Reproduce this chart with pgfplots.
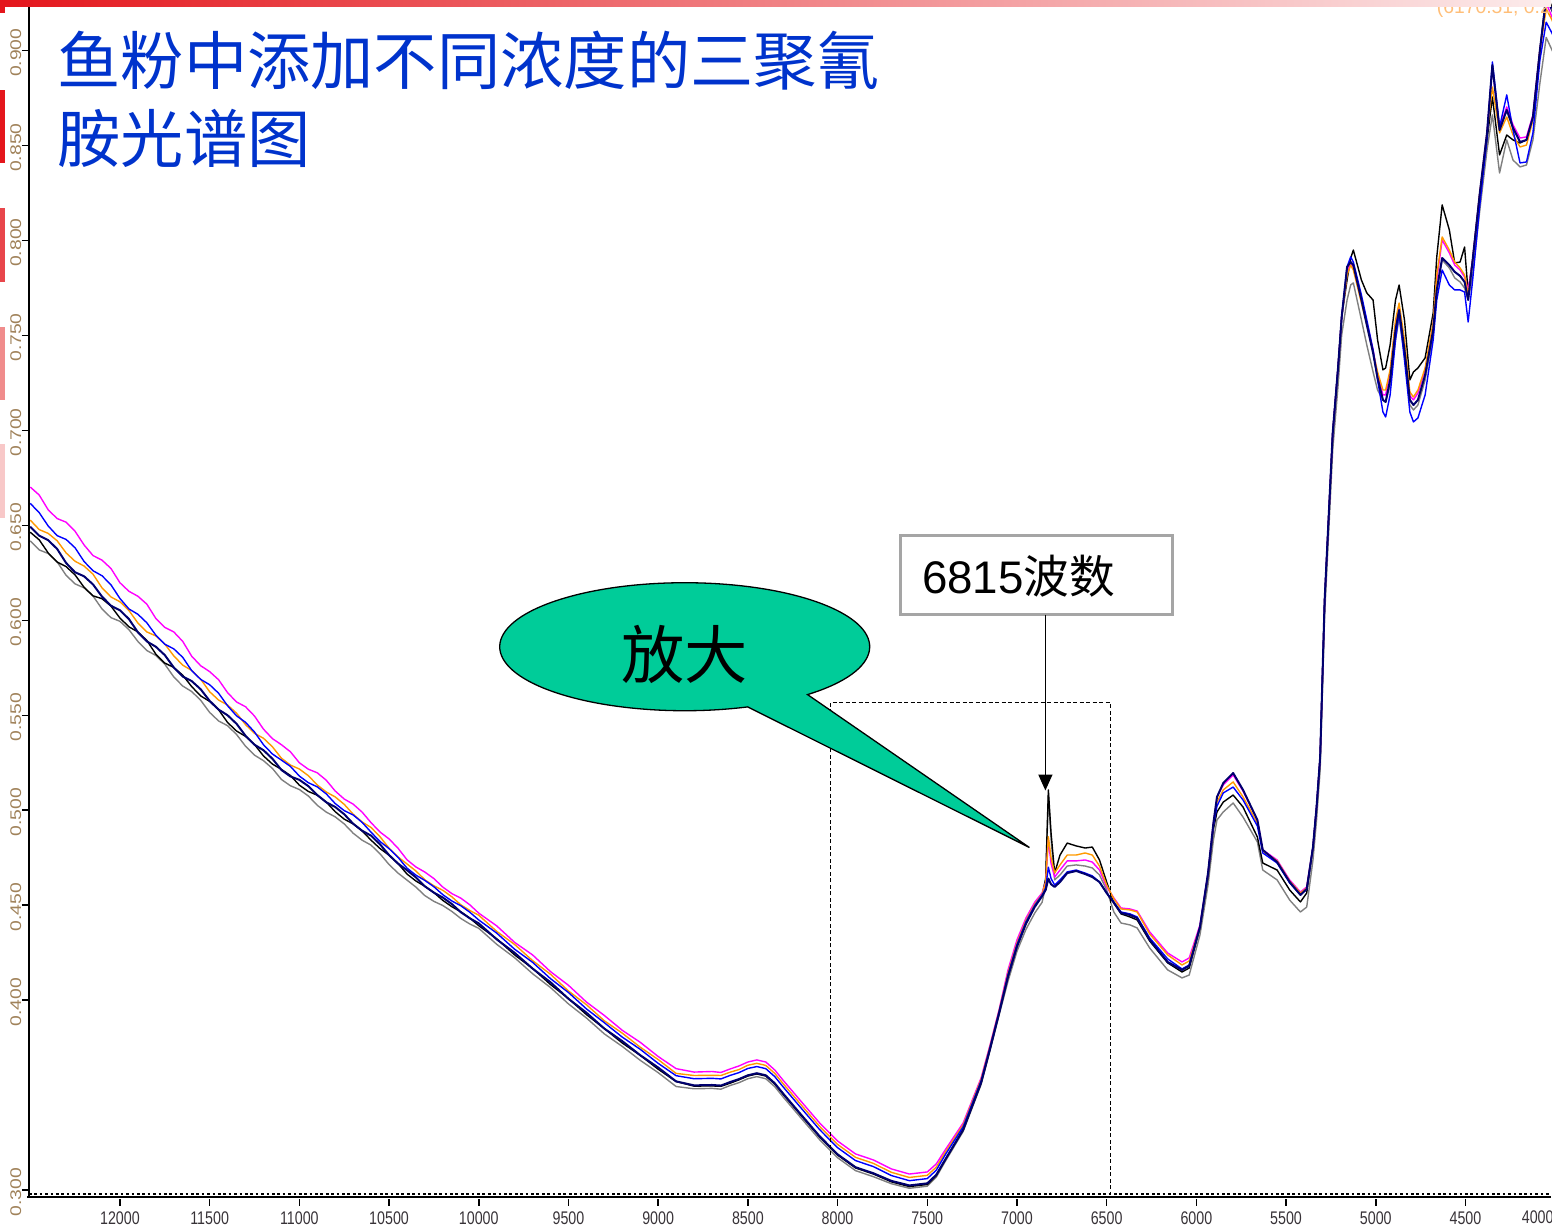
\documentclass[border=0pt]{standalone}
\usepackage{fontspec}
\setmainfont{Liberation Sans}
\newfontfamily\cjk{Noto Sans CJK SC}
\newfontfamily\xtickfont[FakeStretch=0.78]{Liberation Sans}
\newfontfamily\ytickfont[FakeStretch=1.25]{Liberation Sans}
\usepackage{pgfplots}
\usepackage{pgfplotstable}
\pgfplotsset{compat=1.18}
\usetikzlibrary{arrows.meta}

\definecolor{titleblue}{RGB}{0,51,204}
\definecolor{callout}{RGB}{0,204,153}
\definecolor{specmag}{RGB}{255,0,255}
\definecolor{specora}{RGB}{255,153,0}
\definecolor{specblu}{RGB}{0,0,255}
\definecolor{specnav}{RGB}{0,0,110}
\definecolor{specgry}{RGB}{128,128,128}
\definecolor{ylab}{RGB}{160,130,90}
\definecolor{xlab}{RGB}{55,50,55}
\definecolor{barred}{RGB}{228,22,28}
\definecolor{barpale}{RGB}{252,236,236}
\definecolor{bar2}{RGB}{232,70,75}
\definecolor{bar3}{RGB}{240,140,140}
\definecolor{bar4}{RGB}{248,200,200}
\definecolor{boxgray}{RGB}{165,165,165}
\definecolor{cursor}{RGB}{255,190,120}

% NIR spectra: wavenumber (cm^-1) and absorbance of six samples
\pgfplotstableread{
wn mag ora blu nav blk gry
12500 0.6702 0.6528 0.6616 0.6493 0.6464 0.6418
12450 0.6660 0.6478 0.6567 0.6446 0.6424 0.6371
12400 0.6582 0.6458 0.6497 0.6422 0.6355 0.6352
12350 0.6536 0.6419 0.6446 0.6376 0.6307 0.6308
12300 0.6517 0.6355 0.6426 0.6302 0.6283 0.6237
12250 0.6469 0.6311 0.6382 0.6253 0.6239 0.6192
12200 0.6397 0.6286 0.6310 0.6232 0.6174 0.6171
12150 0.6341 0.6243 0.6261 0.6189 0.6129 0.6128
12100 0.6317 0.6171 0.6235 0.6125 0.6114 0.6060
12050 0.6273 0.6123 0.6187 0.6077 0.6075 0.6014
12000 0.6198 0.6098 0.6115 0.6053 0.6012 0.5995
11950 0.6153 0.6052 0.6060 0.6007 0.5966 0.5951
11900 0.6127 0.5986 0.6032 0.5937 0.5939 0.5889
11850 0.6085 0.5939 0.5987 0.5889 0.5894 0.5841
11800 0.6010 0.5918 0.5922 0.5861 0.5822 0.5815
11750 0.5963 0.5875 0.5874 0.5817 0.5775 0.5769
11700 0.5939 0.5813 0.5850 0.5752 0.5752 0.5702
11650 0.5889 0.5764 0.5805 0.5704 0.5711 0.5654
11600 0.5811 0.5736 0.5735 0.5680 0.5651 0.5625
11550 0.5761 0.5690 0.5689 0.5637 0.5602 0.5579
11500 0.5730 0.5624 0.5661 0.5576 0.5573 0.5515
11450 0.5687 0.5580 0.5616 0.5530 0.5529 0.5470
11400 0.5619 0.5554 0.5550 0.5500 0.5462 0.5445
11350 0.5570 0.5511 0.5497 0.5455 0.5417 0.5399
11300 0.5545 0.5451 0.5463 0.5392 0.5389 0.5337
11250 0.5496 0.5405 0.5412 0.5345 0.5346 0.5290
11200 0.5427 0.5379 0.5345 0.5316 0.5286 0.5261
11150 0.5377 0.5334 0.5296 0.5271 0.5243 0.5220
11100 0.5345 0.5274 0.5264 0.5212 0.5215 0.5162
11050 0.5308 0.5238 0.5231 0.5178 0.5183 0.5129
11000 0.5250 0.5217 0.5180 0.5160 0.5132 0.5109
10950 0.5216 0.5182 0.5145 0.5127 0.5099 0.5075
10900 0.5197 0.5133 0.5123 0.5080 0.5079 0.5026
10850 0.5158 0.5096 0.5086 0.5042 0.5043 0.4990
10800 0.5101 0.5070 0.5035 0.5017 0.4992 0.4965
10750 0.5059 0.5031 0.4998 0.4979 0.4953 0.4928
10700 0.5032 0.4979 0.4975 0.4929 0.4928 0.4879
10650 0.4990 0.4938 0.4936 0.4892 0.4891 0.4842
10600 0.4934 0.4909 0.4884 0.4866 0.4842 0.4816
10550 0.4885 0.4860 0.4835 0.4820 0.4798 0.4770
10500 0.4849 0.4800 0.4798 0.4764 0.4763 0.4714
10450 0.4800 0.4754 0.4752 0.4719 0.4719 0.4669
10400 0.4739 0.4717 0.4695 0.4684 0.4664 0.4632
10350 0.4701 0.4680 0.4658 0.4646 0.4627 0.4595
10300 0.4674 0.4633 0.4630 0.4599 0.4599 0.4550
10250 0.4640 0.4602 0.4597 0.4566 0.4566 0.4520
10200 0.4595 0.4578 0.4555 0.4540 0.4525 0.4498
10150 0.4561 0.4544 0.4522 0.4506 0.4492 0.4467
10100 0.4537 0.4502 0.4497 0.4463 0.4465 0.4430
10050 0.4502 0.4472 0.4463 0.4431 0.4432 0.4401
10000 0.4458 0.4447 0.4422 0.4404 0.4392 0.4378
9900 0.4391 0.4362 0.4353 0.4320 0.4323 0.4294
9800 0.4304 0.4293 0.4268 0.4249 0.4238 0.4223
9700 0.4238 0.4208 0.4199 0.4166 0.4167 0.4139
9600 0.4150 0.4136 0.4113 0.4094 0.4082 0.4066
9500 0.4078 0.4048 0.4040 0.4007 0.4008 0.3980
9400 0.3990 0.3976 0.3954 0.3934 0.3924 0.3906
9300 0.3919 0.3891 0.3881 0.3850 0.3850 0.3822
9200 0.3841 0.3826 0.3805 0.3784 0.3774 0.3756
9100 0.3778 0.3752 0.3741 0.3710 0.3709 0.3683
9000 0.3703 0.3687 0.3667 0.3645 0.3636 0.3618
8900 0.3639 0.3614 0.3602 0.3572 0.3571 0.3545
8800 0.3621 0.3603 0.3586 0.3551 0.3547 0.3533
8700 0.3624 0.3604 0.3588 0.3553 0.3548 0.3535
8650 0.3619 0.3603 0.3585 0.3550 0.3546 0.3531
8600 0.3637 0.3620 0.3603 0.3568 0.3562 0.3550
8550 0.3653 0.3634 0.3618 0.3584 0.3580 0.3565
8500 0.3674 0.3657 0.3640 0.3604 0.3600 0.3586
8450 0.3685 0.3667 0.3650 0.3615 0.3611 0.3597
8400 0.3674 0.3656 0.3639 0.3604 0.3600 0.3586
8350 0.3632 0.3614 0.3597 0.3562 0.3558 0.3544
8300 0.3574 0.3556 0.3539 0.3504 0.3500 0.3486
8200 0.3463 0.3445 0.3428 0.3393 0.3389 0.3375
8100 0.3353 0.3335 0.3318 0.3283 0.3279 0.3265
8000 0.3258 0.3240 0.3223 0.3188 0.3184 0.3170
7900 0.3190 0.3172 0.3155 0.3120 0.3116 0.3102
7800 0.3158 0.3140 0.3123 0.3088 0.3084 0.3070
7700 0.3111 0.3093 0.3076 0.3048 0.3043 0.3033
7600 0.3084 0.3066 0.3049 0.3024 0.3018 0.3009
7500 0.3095 0.3077 0.3060 0.3035 0.3029 0.3020
7450 0.3137 0.3120 0.3104 0.3080 0.3075 0.3067
7400 0.3211 0.3198 0.3185 0.3160 0.3158 0.3150
7300 0.3353 0.3343 0.3333 0.3318 0.3315 0.3308
7200 0.3590 0.3583 0.3575 0.3565 0.3563 0.3555
7150 0.3764 0.3758 0.3752 0.3744 0.3742 0.3735
7100 0.3948 0.3943 0.3938 0.3930 0.3929 0.3920
7050 0.4159 0.4144 0.4134 0.4124 0.4124 0.4099
7000 0.4317 0.4302 0.4292 0.4282 0.4282 0.4257
6950 0.4432 0.4420 0.4412 0.4402 0.4402 0.4372
6900 0.4517 0.4507 0.4500 0.4492 0.4495 0.4460
6860 0.4564 0.4557 0.4553 0.4547 0.4552 0.4515
6840 0.4620 0.4620 0.4590 0.4580 0.4640 0.4600
6825 0.4843 0.4860 0.4700 0.4640 0.5107 0.5080
6810 0.4720 0.4750 0.4640 0.4610 0.4880 0.4850
6790 0.4648 0.4670 0.4606 0.4596 0.4670 0.4633
6760 0.4685 0.4712 0.4633 0.4622 0.4764 0.4659
6720 0.4733 0.4764 0.4675 0.4669 0.4827 0.4706
6670 0.4733 0.4764 0.4685 0.4680 0.4812 0.4712
6620 0.4738 0.4775 0.4669 0.4664 0.4801 0.4706
6580 0.4727 0.4764 0.4654 0.4648 0.4806 0.4696
6540 0.4685 0.4706 0.4622 0.4622 0.4738 0.4659
6500 0.4596 0.4606 0.4564 0.4564 0.4622 0.4580
6460 0.4538 0.4533 0.4517 0.4512 0.4512 0.4464
6420 0.4485 0.4480 0.4464 0.4459 0.4454 0.4406
6370 0.4480 0.4475 0.4454 0.4448 0.4438 0.4396
6330 0.4469 0.4464 0.4438 0.4432 0.4422 0.4380
6260 0.4359 0.4348 0.4327 0.4317 0.4311 0.4274
6160 0.4248 0.4238 0.4217 0.4201 0.4196 0.4159
6080 0.4201 0.4185 0.4164 0.4159 0.4148 0.4117
6040 0.4222 0.4206 0.4185 0.4180 0.4169 0.4132
5980 0.4396 0.4385 0.4385 0.4385 0.4380 0.4343
5935 0.4669 0.4664 0.4664 0.4669 0.4650 0.4606
5905 0.4933 0.4925 0.4920 0.4933 0.4900 0.4843
5885 0.5070 0.5043 0.5022 0.5070 0.4991 0.4949
5850 0.5133 0.5107 0.5091 0.5143 0.5043 0.4991
5795 0.5186 0.5149 0.5122 0.5196 0.5080 0.5038
5740 0.5101 0.5070 0.5054 0.5107 0.5017 0.4964
5660 0.4949 0.4933 0.4917 0.4949 0.4859 0.4833
5630 0.4791 0.4785 0.4775 0.4791 0.4722 0.4685
5550 0.4738 0.4733 0.4722 0.4727 0.4685 0.4633
5480 0.4633 0.4627 0.4617 0.4622 0.4580 0.4527
5420 0.4569 0.4564 0.4554 0.4554 0.4517 0.4464
5385 0.4596 0.4590 0.4585 0.4585 0.4564 0.4490
5350 0.4806 0.4806 0.4806 0.4806 0.4806 0.4738
5330 0.5017 0.5017 0.5017 0.5017 0.5017 0.4949
5310 0.5280 0.5280 0.5280 0.5280 0.5280 0.5212
5285 0.6107 0.6107 0.6107 0.6107 0.6107 0.6028
5240 0.6987 0.6987 0.6987 0.6987 0.6987 0.6897
5210 0.7334 0.7334 0.7334 0.7334 0.7334 0.7239
5190 0.7598 0.7598 0.7598 0.7598 0.7598 0.7503
5160 0.7835 0.7819 0.7861 0.7861 0.7792 0.7687
5140 0.7887 0.7871 0.7914 0.7887 0.7908 0.7766
5125 0.7856 0.7845 0.7887 0.7871 0.7950 0.7777
5080 0.7698 0.7671 0.7713 0.7687 0.7792 0.7582
5050 0.7571 0.7556 0.7582 0.7556 0.7724 0.7450
5015 0.7424 0.7413 0.7424 0.7408 0.7687 0.7308
4990 0.7292 0.7308 0.7266 0.7276 0.7477 0.7213
4960 0.7187 0.7213 0.7097 0.7161 0.7319 0.7161
4945 0.7187 0.7213 0.7071 0.7150 0.7329 0.7150
4920 0.7308 0.7319 0.7187 0.7266 0.7450 0.7240
4890 0.7556 0.7582 0.7476 0.7529 0.7687 0.7476
4870 0.7645 0.7671 0.7619 0.7634 0.7766 0.7592
4840 0.7450 0.7477 0.7371 0.7424 0.7582 0.7397
4810 0.7182 0.7203 0.7097 0.7161 0.7266 0.7134
4790 0.7161 0.7176 0.7045 0.7134 0.7308 0.7108
4765 0.7197 0.7213 0.7066 0.7161 0.7329 0.7134
4725 0.7319 0.7329 0.7187 0.7292 0.7382 0.7266
4680 0.7556 0.7571 0.7477 0.7529 0.7619 0.7503
4660 0.7792 0.7819 0.7687 0.7740 0.7914 0.7740
4630 0.8003 0.8019 0.7845 0.7908 0.8188 0.7898
4590 0.7935 0.7950 0.7766 0.7871 0.8056 0.7856
4560 0.7871 0.7887 0.7740 0.7835 0.7882 0.7803
4530 0.7845 0.7856 0.7740 0.7814 0.7887 0.7782
4505 0.7808 0.7819 0.7729 0.7782 0.7966 0.7750
4485 0.7740 0.7713 0.7571 0.7687 0.7724 0.7687
4460 0.7898 0.7898 0.7792 0.7898 0.7898 0.7819
4420 0.8251 0.8251 0.8188 0.8251 0.8251 0.8161
4380 0.8567 0.8567 0.8540 0.8567 0.8530 0.8477
4350 0.8914 0.8809 0.8941 0.8925 0.8756 0.8662
4310 0.8593 0.8567 0.8598 0.8582 0.8451 0.8356
4270 0.8704 0.8651 0.8767 0.8688 0.8556 0.8530
4235 0.8609 0.8556 0.8582 0.8593 0.8530 0.8424
4196 0.8540 0.8493 0.8409 0.8519 0.8514 0.8388
4160 0.8546 0.8503 0.8414 0.8530 0.8530 0.8398
4124 0.8661 0.8635 0.8567 0.8651 0.8651 0.8530
4085 0.9004 0.9004 0.8951 0.9004 0.9004 0.8830
4050 0.9250 0.9220 0.9150 0.9280 0.9300 0.9070
4018 0.9178 0.9162 0.9093 0.9214 0.9230 0.9004
3995 0.9120 0.9110 0.9040 0.9160 0.9180 0.8960
}\spec

\begin{document}
\begin{tikzpicture}
\useasboundingbox (0,0) rectangle (15.52,-12.31);

\begin{axis}[
  at={(7.93cm,-5.975cm)}, anchor=center, scale only axis,
  width=15.28cm, height=11.95cm,
  x dir=reverse,
  xmin=3990, xmax=12507, ymin=0.29737, ymax=0.9267,
  axis line style={draw=none},
  tick align=outside,
  major tick length=0.07cm,
  tick style={black, line width=0.015cm},
  xtick style={yshift=-0.04cm},
  xtick pos=left, ytick pos=left,
  xtick={4500,5000,5500,6000,6500,7000,7500,8000,8500,9000,9500,10000,10500,11000,11500,12000},
  xticklabels={4500,5000,5500,6000,6500,7000,7500,8000,8500,9000,9500,10000,10500,11000,11500,12000},
  ytick={0.3,0.4,0.45,0.5,0.55,0.6,0.65,0.7,0.75,0.8,0.85,0.9},
  yticklabels={0.300,0.400,0.450,0.500,0.550,0.600,0.650,0.700,0.750,0.800,0.850,0.900},
  xticklabel style={font={\xtickfont\fontsize{5.2pt}{6pt}\selectfont}, text=xlab,
    anchor=north, inner sep=0pt, yshift=-0.09cm},
  yticklabel style={font={\ytickfont\fontsize{4.4pt}{5pt}\selectfont}, text=ylab,
    rotate=90, anchor=south, inner sep=0pt, xshift=-0.02cm},
  every axis plot/.append style={line width=0.014cm, line join=round},
]
\addplot[specgry] table[x=wn, y=gry] {\spec};
\addplot[black] table[x=wn, y=blk] {\spec};
\addplot[specmag] table[x=wn, y=mag] {\spec};
\addplot[specora] table[x=wn, y=ora] {\spec};
\addplot[specblu] table[x=wn, y=blu] {\spec};
\addplot[specnav, line width=0.02cm] table[x=wn, y=nav] {\spec};
\end{axis}

\begin{scope}[x=0.01cm, y=-0.01cm]
% axis frame: left line and the ruled bottom edge
\draw[line width=0.025cm] (29,5) -- (29,1198);
\draw[line width=0.025cm] (27.5,1197.5) -- (1552,1197.5);
\draw[line width=0.025cm, dash pattern=on 0.027cm off 0.027cm] (29,1194.5) -- (1552,1194.5);
% last wavenumber label, pulled in from the right edge
\node[anchor=north west, inner sep=0pt, text=xlab, font={\xtickfont\fontsize{5.2pt}{6pt}\selectfont}] at (1522,1211) {4000};

% zoomed window
\draw[line width=0.012cm, dash pattern=on 0.04cm off 0.025cm]
  (831,1195) -- (831,703) -- (1111,703) -- (1111,1195);

% callout bubble
\draw[fill=callout, line width=0.013cm, line join=miter]
  (808,695) arc[start angle=-48.4, end angle=289.9, x radius=1.85cm, y radius=0.64cm]
  -- (1030,848) -- cycle;
\node[font={\cjk\fontsize{18pt}{20pt}\selectfont}] at (685,655) {放大};

% band label with pointer
\draw[boxgray, fill=white, line width=0.025cm] (901,536) rectangle (1173,615);
\node[anchor=west, inner sep=0pt, font={\fontsize{13pt}{15pt}\selectfont}] at (922,577) {6815{\cjk 波数}};
\draw[line width=0.015cm, -{Triangle[width=0.14cm,length=0.16cm]}] (1046,615) -- (1046,791);

% title
\node[anchor=west, inner sep=0pt, text=titleblue, font={\cjk\fontsize{18pt}{20pt}\selectfont}] at (57,61) {鱼粉中添加不同浓度的三聚氰};
\node[anchor=west, inner sep=0pt, text=titleblue, font={\cjk\fontsize{18pt}{20pt}\selectfont}] at (57,138) {胺光谱图};

% cursor readout
\node[anchor=west, inner sep=0pt, text=cursor, font={\fontsize{5.5pt}{6pt}\selectfont}] at (1437,9) {(6170.51, 0.2858)};

% slide decoration
\shade[left color=barred, right color=barpale] (0,0) rectangle (1552,6.5);
\fill[barred] (0,0) rectangle (5,13);
\fill[barred] (0,90) rectangle (5,163);
\fill[bar2] (0,208) rectangle (5,282);
\fill[bar3] (0,327) rectangle (5,400);
\fill[bar4] (0,444) rectangle (5,518);
\end{scope}
\end{tikzpicture}
\end{document}
